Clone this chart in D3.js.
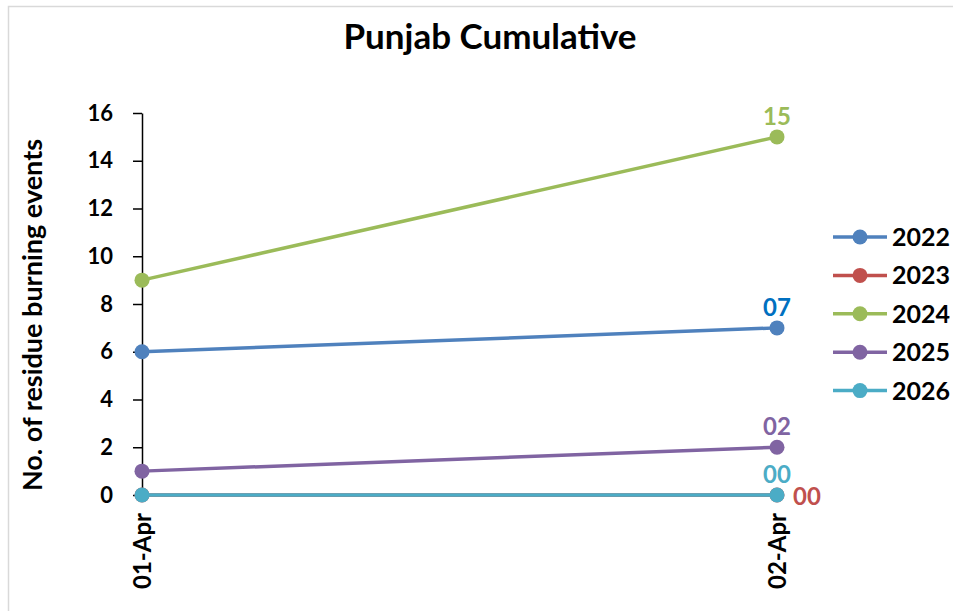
<!DOCTYPE html>
<html>
<head>
<meta charset="utf-8">
<script src="https://cdn.jsdelivr.net/npm/d3@7"></script>
<style>
  body { margin: 0; background: #fff; }
  text { font-family: Lato, "Open Sans", sans-serif; font-weight: bold; }
</style>
</head>
<body>
<div id="chart"></div>
<script>
const dates = ['01-Apr', '02-Apr'];
const years = ['2022', '2023', '2024', '2025', '2026'];
const events2022 = [6, 7];
const events2023 = [0, 0];
const events2024 = [9, 15];
const events2025 = [1, 2];
const events2026 = [0, 0];
const yTicks = [0, 2, 4, 6, 8, 10, 12, 14, 16];

const colors = ['#4f81bd', '#c0504d', '#9bbb59', '#8064a2', '#4bacc6'];
const labelColors = ['#0070c0', '#c0504d', '#9bbb59', '#8064a2', '#4bacc6'];
const allSeries = [events2022, events2023, events2024, events2025, events2026];

const width = 953;
const height = 611;
const margin = { top: 113, right: 176, bottom: 116, left: 142 };

const svg = d3.select('#chart').append('svg')
  .attr('width', width)
  .attr('height', height);

// chart border (runs off the right / bottom edge)
svg.append('rect')
  .attr('x', 8.5).attr('y', 6.5)
  .attr('width', 980).attr('height', 640)
  .attr('fill', 'none')
  .attr('stroke', '#d9d9d9')
  .attr('stroke-width', 1.5);

const x = d3.scalePoint()
  .domain(dates)
  .range([margin.left, width - margin.right]);

const y = d3.scaleLinear()
  .domain([0, 16])
  .range([height - margin.bottom, margin.top]);

svg.append('text')
  .attr('x', 490)
  .attr('y', 49)
  .attr('text-anchor', 'middle')
  .style('font-size', '35px')
  .text('Punjab Cumulative');

// y axis
const yAxis = svg.append('g')
  .attr('transform', 'translate(' + margin.left + ',0)')
  .call(d3.axisLeft(y).tickValues(yTicks).tickSize(9).tickSizeOuter(0).tickPadding(20));
yAxis.select('.domain').attr('stroke', '#000').attr('stroke-width', 1.5);
yAxis.selectAll('.tick line').attr('stroke', '#000').attr('stroke-width', 1.5);
yAxis.selectAll('.tick text')
  .attr('fill', '#000')
  .style('font-size', '22px')
  .style('font-family', 'Lato, sans-serif');

svg.append('text')
  .attr('transform', 'translate(42,315) rotate(-90)')
  .attr('text-anchor', 'middle')
  .style('font-size', '27px')
  .text('No. of residue burning events');

// x axis
const xAxis = svg.append('g')
  .attr('transform', 'translate(0,' + y(0) + ')')
  .call(d3.axisBottom(x).tickSize(7).tickSizeOuter(0));
xAxis.select('.domain').attr('stroke', '#000').attr('stroke-width', 1.5);
xAxis.selectAll('.tick line').attr('stroke', '#000').attr('stroke-width', 1.5);
xAxis.selectAll('.tick text')
  .attr('fill', '#000')
  .attr('transform', 'rotate(-90)')
  .attr('text-anchor', 'end')
  .attr('x', -18)
  .attr('y', 0)
  .attr('dy', '0.36em')
  .style('font-size', '24px')
  .style('font-family', 'Lato, sans-serif');

const line = d3.line()
  .x((d, i) => x(dates[i]))
  .y(d => y(d));

// draw in series order so 2026 sits on top of 2023
allSeries.forEach(function (vals, s) {
  const g = svg.append('g');
  g.append('path')
    .datum(vals)
    .attr('d', line)
    .attr('fill', 'none')
    .attr('stroke', colors[s])
    .attr('stroke-width', 3.5);
  g.selectAll('circle')
    .data(vals)
    .enter().append('circle')
    .attr('cx', (d, i) => x(dates[i]))
    .attr('cy', d => y(d))
    .attr('r', 7.5)
    .attr('fill', colors[s]);
});

// data labels at last point
const pad2 = function (v) { return (v < 10 ? '0' : '') + v; };
allSeries.forEach(function (vals, s) {
  const v = vals[vals.length - 1];
  const px = x(dates[dates.length - 1]);
  const py = y(v);
  const t = svg.append('text')
    .attr('fill', labelColors[s])
    .style('font-size', '24px')
    .text(pad2(v));
  if (years[s] === '2023') {
    t.attr('x', px + 16).attr('y', py + 10).attr('text-anchor', 'start');
  } else {
    t.attr('x', px).attr('y', py - 12).attr('text-anchor', 'middle');
  }
});

// legend
const legend = svg.append('g');
years.forEach(function (yr, i) {
  const ly = 237 + i * 38.4;
  legend.append('line')
    .attr('x1', 833).attr('x2', 887)
    .attr('y1', ly).attr('y2', ly)
    .attr('stroke', colors[i])
    .attr('stroke-width', 3.5);
  legend.append('circle')
    .attr('cx', 860).attr('cy', ly).attr('r', 7.5)
    .attr('fill', colors[i]);
  legend.append('text')
    .attr('x', 892).attr('y', ly)
    .attr('dy', '0.36em')
    .style('font-size', '25px')
    .text(yr);
});
</script>
</body>
</html>
